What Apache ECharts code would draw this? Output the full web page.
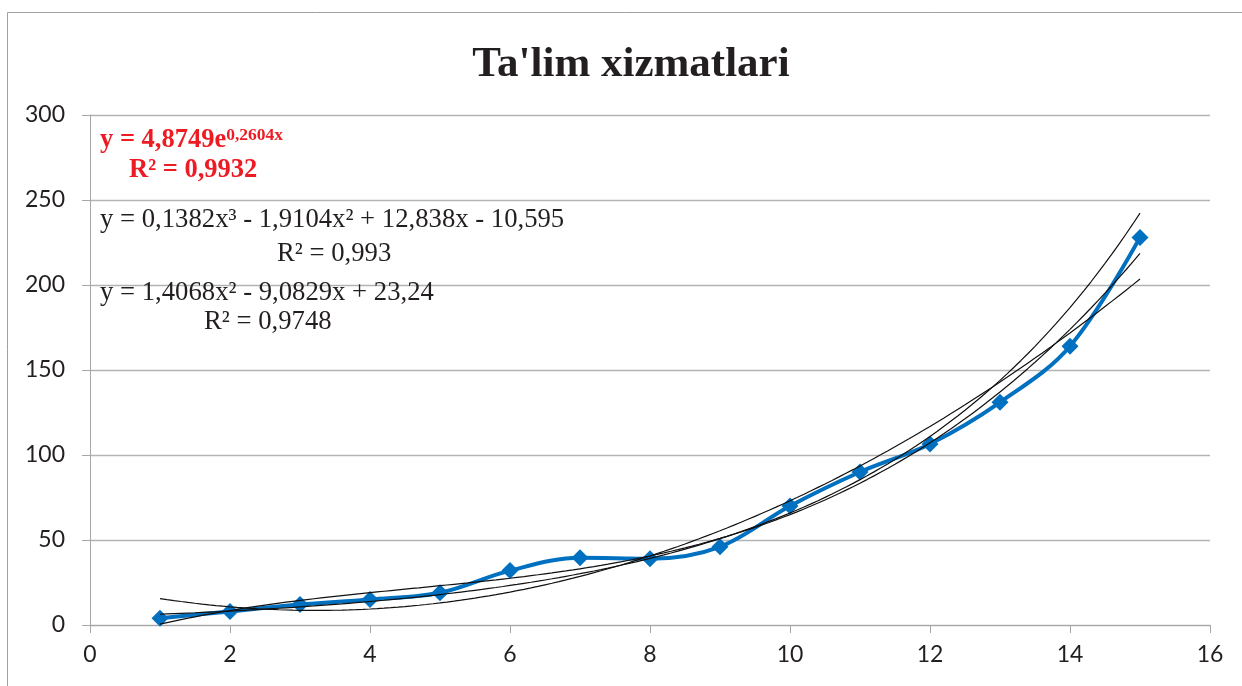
<!DOCTYPE html>
<html>
<head>
  <meta charset="utf-8">
  <title>Ta'lim xizmatlari</title>
  <script src="https://cdn.jsdelivr.net/npm/echarts@6/dist/echarts.min.js"></script>
  <style>
    html, body { margin: 0; padding: 0; background: #fff; }
    #main { width: 1242px; height: 686px; }
  </style>
</head>
<body>
  <div id="main"></div>
  <script>
    // kuzatilgan qiymatlar
    var years = [1, 2, 3, 4, 5, 6, 7, 8, 9, 10, 11, 12, 13, 14, 15];
    var values = [4, 8, 12, 15, 19, 32, 39.5, 39, 46, 70, 90, 106.5, 131, 164, 228];

    // trend koeffitsientlari (rasmdagi tenglamalardan)
    var expCoef = [4.8749, 0.2604];
    var cubicCoef = [0.1382, -1.9104, 12.838, -10.595];
    var quadCoef = [1.4068, -9.0829, 23.24];

    var xTicks = [0, 2, 4, 6, 8, 10, 12, 14, 16];
    var yTicks = [0, 50, 100, 150, 200, 250, 300];

    function trend(fn) {
      var pts = [];
      for (var i = 0; i <= 140; i++) {
        var x = 1 + i / 10;
        pts.push([x, fn(x)]);
      }
      return pts;
    }
    function poly(c) {
      return function (x) {
        var y = 0;
        for (var k = 0; k < c.length; k++) y = y * x + c[k];
        return y;
      };
    }

    var chart = echarts.init(document.getElementById('main'));
    var axisGray = '#a6a6a6';
    var serif = '"Liberation Serif", "Times New Roman", serif';

    chart.setOption({
      animation: false,
      backgroundColor: '#ffffff',
      title: {
        text: "Ta'lim xizmatlari",
        left: 626, top: 38, textAlign: 'center',
        textStyle: { fontFamily: serif, fontWeight: 'bold', fontSize: 43, color: '#231f20' }
      },
      grid: { left: 90, right: 32, top: 115, bottom: 61 },
      xAxis: {
        type: 'value', min: xTicks[0], max: xTicks[xTicks.length - 1], interval: 2,
        axisLine: { lineStyle: { color: axisGray, width: 1 } },
        axisTick: { show: true, length: 8, lineStyle: { color: axisGray } },
        splitLine: { show: false },
        axisLabel: { margin: 18, fontFamily: 'Lato', fontSize: 23, color: '#231f20' }
      },
      yAxis: {
        type: 'value', min: yTicks[0], max: yTicks[yTicks.length - 1], interval: 50,
        axisLine: { show: true, lineStyle: { color: axisGray, width: 1 } },
        axisTick: { show: true, length: 8, lineStyle: { color: axisGray } },
        splitLine: { lineStyle: { color: '#b3b3b3', width: 1.3 } },
        axisLabel: { margin: 25, fontFamily: 'Lato', fontSize: 23, color: '#231f20' }
      },
      graphic: [
        { type: 'rect', silent: true, shape: { x: 7.5, y: 12.5, width: 1400, height: 1000 },
          style: { fill: 'none', stroke: '#a0a0a0', lineWidth: 1 } },
        { type: 'text', left: 100, top: 126, z: 100,
          style: {
            text: '{b|y = 4,8749e}{s|0,2604x}',
            rich: {
              b: { fontFamily: serif, fontWeight: 'bold', fontSize: 26.5, fill: '#ed1c24', lineHeight: 28, verticalAlign: 'bottom' },
              s: { fontFamily: serif, fontWeight: 'bold', fontSize: 17.5, fill: '#ed1c24', lineHeight: 28, verticalAlign: 'top' }
            }
          } },
        { type: 'text', left: 129, top: 157, z: 100,
          style: { text: 'R² = 0,9932', font: 'bold 26.5px ' + serif, fill: '#ed1c24' } },
        { type: 'text', left: 100, top: 206, z: 100,
          style: { text: 'y = 0,1382x³ - 1,9104x² + 12,838x - 10,595', font: '26.7px ' + serif, fill: '#231f20' } },
        { type: 'text', left: 277, top: 240, z: 100,
          style: { text: 'R² = 0,993', font: '26.7px ' + serif, fill: '#231f20' } },
        { type: 'text', left: 100, top: 279, z: 100,
          style: { text: 'y = 1,4068x² - 9,0829x + 23,24', font: '26.7px ' + serif, fill: '#231f20' } },
        { type: 'text', left: 204, top: 308, z: 100,
          style: { text: 'R² = 0,9748', font: '26.7px ' + serif, fill: '#231f20' } }
      ],
      series: [
        {
          type: 'line', smooth: 0.35, z: 2,
          data: years.map(function (x, i) { return [x, values[i]]; }),
          symbol: 'diamond', symbolSize: 17,
          lineStyle: { color: '#0070c0', width: 4 },
          itemStyle: { color: '#0070c0' }
        },
        {
          type: 'line', showSymbol: false, z: 3,
          data: trend(function (x) { return expCoef[0] * Math.exp(expCoef[1] * x); }),
          lineStyle: { color: '#111', width: 1.2 }
        },
        {
          type: 'line', showSymbol: false, z: 3,
          data: trend(poly(cubicCoef)),
          lineStyle: { color: '#111', width: 1.2 }
        },
        {
          type: 'line', showSymbol: false, z: 3,
          data: trend(poly(quadCoef)),
          lineStyle: { color: '#111', width: 1.2 }
        }
      ]
    });
  </script>
</body>
</html>
